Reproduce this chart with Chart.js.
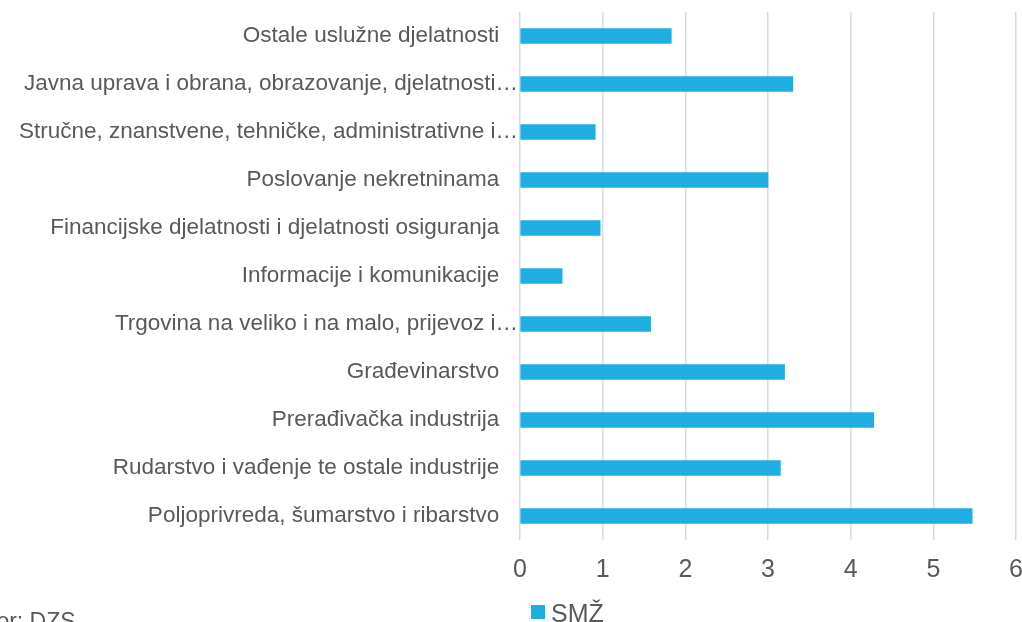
<!DOCTYPE html>
<html>
<head>
<meta charset="utf-8">
<script src="https://cdn.jsdelivr.net/npm/chart.js@4"></script>
<style>
  html, body { margin: 0; padding: 0; background: #fff; overflow: hidden; }
  #wrap { width: 1022px; height: 622px; }
</style>
</head>
<body>
<div id="wrap"><canvas id="chart" width="1022" height="622"></canvas></div>
<script>
// categories, top to bottom as in the picture
const categories = [
  "Ostale uslužne djelatnosti",
  "Javna uprava i obrana, obrazovanje, djelatnosti…",
  "Stručne, znanstvene, tehničke, administrativne i…",
  "Poslovanje nekretninama",
  "Financijske djelatnosti i djelatnosti osiguranja",
  "Informacije i komunikacije",
  "Trgovina na veliko i na malo, prijevoz i…",
  "Građevinarstvo",
  "Prerađivačka industrija",
  "Rudarstvo i vađenje te ostale industrije",
  "Poljoprivreda, šumarstvo i ribarstvo"
];
const smzValues = [1.83, 3.30, 0.91, 3.00, 0.97, 0.51, 1.58, 3.20, 4.28, 3.15, 5.47];
const seriesName = "SMŽ";
const sourceNote = "Izvor: DZS";

const textColor = "#595959";
const barColor = "#1eaee4";
const fontFamily = "'Liberation Sans', Arial, sans-serif";

// legend + source note drawn under the plot
const footerPlugin = {
  id: "footer",
  afterDraw(chart) {
    const ctx = chart.ctx;
    ctx.save();
    ctx.fillStyle = barColor;
    ctx.fillRect(531, 605, 14, 14);
    ctx.fillStyle = textColor;
    ctx.font = "25px " + fontFamily;
    ctx.textBaseline = "alphabetic";
    ctx.fillText(chart.data.datasets[0].label, 551, 622);
    ctx.font = "23px " + fontFamily;
    ctx.fillText(sourceNote, -33, 629);
    ctx.restore();
  }
};

new Chart(document.getElementById("chart"), {
  type: "bar",
  data: {
    labels: categories,
    datasets: [{
      label: seriesName,
      data: smzValues,
      backgroundColor: barColor,
      barThickness: 15
    }]
  },
  options: {
    indexAxis: "y",
    responsive: false,
    animation: false,
    layout: { padding: { top: 12, right: 6, bottom: 32, left: 0 } },
    plugins: {
      legend: { display: false },
      tooltip: { enabled: false }
    },
    scales: {
      x: {
        min: 0,
        max: 6,
        afterFit(scale) {
          scale.height = 50;
          scale.paddingLeft = 0;
          scale.paddingRight = 0;
        },
        ticks: {
          stepSize: 1,
          color: textColor,
          font: { family: fontFamily, size: 25 },
          padding: 15
        },
        grid: { color: "#d9d9d9", lineWidth: 1.5, drawTicks: false },
        border: { display: false }
      },
      y: {
        afterFit(scale) {
          scale.width = 520;
          scale.paddingTop = 0;
          scale.paddingBottom = 0;
        },
        ticks: {
          color: textColor,
          font: { family: fontFamily, size: 22.5 },
          padding: 2,
          autoSkip: false,
          // truncated labels run up to the axis, full ones stop a bit short
          callback(value) {
            const label = this.getLabelForValue(value);
            return label.endsWith("…") ? label : label + "   ";
          }
        },
        grid: { display: false, drawTicks: false },
        border: { display: false }
      }
    }
  },
  plugins: [footerPlugin]
});
</script>
</body>
</html>
